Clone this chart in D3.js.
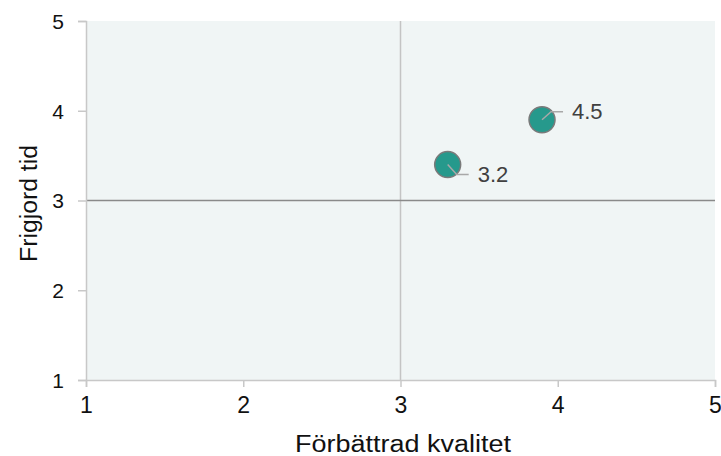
<!DOCTYPE html>
<html><head><meta charset="utf-8">
<script src="https://cdn.jsdelivr.net/npm/d3@7"></script>
<style>body{margin:0;background:#fff}svg{display:block;font-family:"Liberation Sans",Arial,sans-serif}</style>
</head><body>
<svg id="c" width="721" height="456"></svg>
<script>
const xValues = [3.3, 3.9];
const yValues = [3.4, 3.9];
const pointLabels = ["3.2", "4.5"];
const xTicks = [1, 2, 3, 4, 5];
const yTicks = [1, 2, 3, 4, 5];
const xTitle = "Förbättrad kvalitet";
const yTitle = "Frigjord tid";

const svg = d3.select("#c");
const L = 86, R = 715, T = 21, B = 380;
const x = d3.scaleLinear().domain([1, 5]).range([L, R]);
const y = d3.scaleLinear().domain([1, 5]).range([B, T]);

svg.append("rect").attr("x", L).attr("y", T).attr("width", R - L).attr("height", B - T).attr("fill", "#f0f5f5");

// quadrant lines
svg.append("line").attr("x1", x(3)).attr("x2", x(3)).attr("y1", T).attr("y2", B).attr("stroke", "#c4c4c4").attr("stroke-width", 1.5);
svg.append("line").attr("x1", L).attr("x2", R).attr("y1", y(3)).attr("y2", y(3)).attr("stroke", "#8a8a8a").attr("stroke-width", 1.5);

// axes
const gx = svg.append("g").attr("transform", `translate(0,${B})`)
  .call(d3.axisBottom(x).tickValues(xTicks).tickFormat(d3.format("d")).tickSize(7).tickPadding(10));
const gy = svg.append("g").attr("transform", `translate(${L},0)`)
  .call(d3.axisLeft(y).tickValues(yTicks).tickFormat(d3.format("d")).tickSize(8).tickPadding(14));
gx.attr("font-size", 23).attr("font-family", "Liberation Sans, Arial, sans-serif");
gy.attr("font-size", 21).attr("font-family", "Liberation Sans, Arial, sans-serif");
[gx, gy].forEach(g => {
  g.select(".domain").attr("stroke", "#c8c8c8").attr("stroke-width", 1.5);
  g.selectAll(".tick line").attr("stroke", "#c8c8c8").attr("stroke-width", 1.5);
  g.selectAll(".tick text").attr("fill", "#111");
});
gy.selectAll(".tick text").attr("dy", "0.35em");

svg.append("text").attr("x", 403).attr("y", 452).attr("text-anchor", "middle")
  .attr("textLength", 216).attr("lengthAdjust", "spacingAndGlyphs")
  .attr("fill", "#111").attr("font-size", 23).text(xTitle);
svg.append("text").attr("transform", `translate(37,203.5) rotate(-90)`).attr("text-anchor", "middle")
  .attr("textLength", 117).attr("lengthAdjust", "spacingAndGlyphs")
  .attr("fill", "#111").attr("font-size", 23).text(yTitle);

const data = xValues.map((v, i) => ({x: v, y: yValues[i], label: pointLabels[i], i}));
const offs = [[9, 10], [9, -8]];

svg.selectAll("circle.pt").data(data).join("circle").attr("class", "pt")
  .attr("cx", d => x(d.x)).attr("cy", d => y(d.y)).attr("r", 13)
  .attr("fill", "#26998c").attr("stroke", "#7a7a7a").attr("stroke-width", 1.5);

svg.selectAll("path.lead").data(data).join("path").attr("class", "lead")
  .attr("d", d => {
    const cx = x(d.x), cy = y(d.y), o = offs[d.i];
    return `M${cx},${cy}L${cx + o[0]},${cy + o[1]}L${cx + o[0] + 12},${cy + o[1]}`;
  })
  .attr("fill", "none").attr("stroke", "#a8a8a8").attr("stroke-width", 1.5);

svg.selectAll("text.lbl").data(data).join("text").attr("class", "lbl")
  .attr("x", d => x(d.x) + offs[d.i][0] + 21).attr("y", d => y(d.y) + offs[d.i][1])
  .attr("dy", "0.35em").attr("fill", "#404040").attr("font-size", 22).text(d => d.label);
</script>
</body></html>
